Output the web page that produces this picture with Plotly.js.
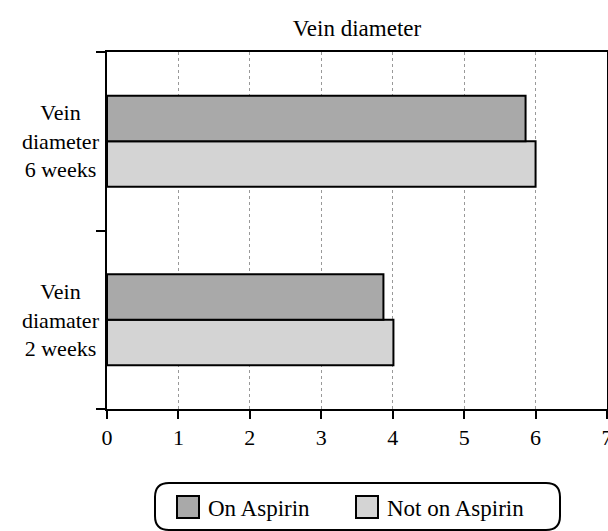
<!DOCTYPE html>
<html>
<head>
<meta charset="utf-8">
<script src="https://cdn.plot.ly/plotly-3.0.1.min.js"></script>
<style>html,body{margin:0;padding:0;background:#fff;}#chart{width:608px;height:531px;}</style>
</head>
<body>
<div id="chart"></div>
<script>
const categories = ["Vein diamater 2 weeks", "Vein diameter 6 weeks"];
const categoryLabels = ["Vein<br>diamater<br>2 weeks", "Vein<br>diameter<br>6 weeks"];
const onAspirin = [3.87, 5.86];
const notOnAspirin = [4.01, 6.0];
const xTicks = [0, 1, 2, 3, 4, 5, 6, 7];

const FONT = '"Liberation Serif", "Times New Roman", Times, "DejaVu Serif", serif';
const W = 500, H = 357; // plot area size in px
const r = 14;
const bx0 = (155 - 107) / W, bx1 = (560 - 107) / W;
const by0 = (409 - 483) / H, by1 = (409 - 530) / H;
const rx = r / W, ry = r / H;
const boxPath = `M ${bx0 + rx} ${by0} L ${bx1 - rx} ${by0} Q ${bx1} ${by0} ${bx1} ${by0 - ry} L ${bx1} ${by1 + ry} Q ${bx1} ${by1} ${bx1 - rx} ${by1} L ${bx0 + rx} ${by1} Q ${bx0} ${by1} ${bx0} ${by1 + ry} L ${bx0} ${by0 - ry} Q ${bx0} ${by0} ${bx0 + rx} ${by0} Z`;

const traces = [
  {type: 'bar', orientation: 'h', name: 'Not on Aspirin', y: categories, x: notOnAspirin,
   marker: {color: '#d4d4d4', line: {color: '#000', width: 2}}, legendrank: 2},
  {type: 'bar', orientation: 'h', name: 'On Aspirin', y: categories, x: onAspirin,
   marker: {color: '#a9a9a9', line: {color: '#000', width: 2}}, legendrank: 1}
];

const layout = {
  width: 608, height: 531,
  margin: {l: 107, r: 1, t: 52, b: 122},
  paper_bgcolor: '#fff', plot_bgcolor: '#fff',
  font: {family: FONT, size: 22, color: '#000'},
  title: {text: 'Vein diameter', x: 0.5, xref: 'paper', y: 1 - 28 / 531, yref: 'container', yanchor: 'middle',
          font: {family: FONT, size: 23, color: '#000'}},
  barmode: 'group', bargap: 0.49, bargroupgap: 0,
  xaxis: {range: [0, 7], tickvals: xTicks, ticktext: xTicks.map(String), showgrid: true,
          gridcolor: '#555', griddash: '3px,3px', gridwidth: 0.6,
          showline: true, linecolor: '#000', linewidth: 2, mirror: true,
          ticks: 'outside', ticklen: 8, tickwidth: 2, tickcolor: '#000', zeroline: false,
          ticklabeloverflow: 'allow', tickfont: {family: FONT, size: 22}},
  yaxis: {type: 'category', categoryorder: 'array', categoryarray: categories,
          showticklabels: false, tickson: 'boundaries', ticks: 'outside', ticklen: 9, tickwidth: 2,
          tickcolor: '#000', showgrid: false, showline: true, linecolor: '#000', linewidth: 2,
          mirror: true, zeroline: false},
  showlegend: true,
  legend: {orientation: 'h', x: 0.48, xanchor: 'center', y: (409 - 507) / H, yanchor: 'middle',
           bgcolor: 'rgba(0,0,0,0)', borderwidth: 0, font: {family: FONT, size: 23}, traceorder: 'normal',
           itemwidth: 30, entrywidth: 134},
  shapes: [{type: 'path', xref: 'paper', yref: 'paper', path: boxPath,
            line: {color: '#000', width: 2}, fillcolor: 'rgba(0,0,0,0)'}],
  annotations: categories.map((c, i) => ({
    xref: 'paper', yref: 'y', x: -0.092, y: c, xanchor: 'center', yanchor: 'middle',
    text: categoryLabels[i], showarrow: false, align: 'center',
    font: {family: FONT, size: 22, color: '#000'}
  }))
};

Plotly.newPlot('chart', traces, layout, {displayModeBar: false, staticPlot: true}).then(gd => {
  // enlarge legend swatches to match the reference's square keys
  gd.querySelectorAll('.legend .legendpoints path').forEach(p => {
    p.setAttribute('d', 'M11,11H-11V-11H11Z');
  });
});
</script>
</body>
</html>
